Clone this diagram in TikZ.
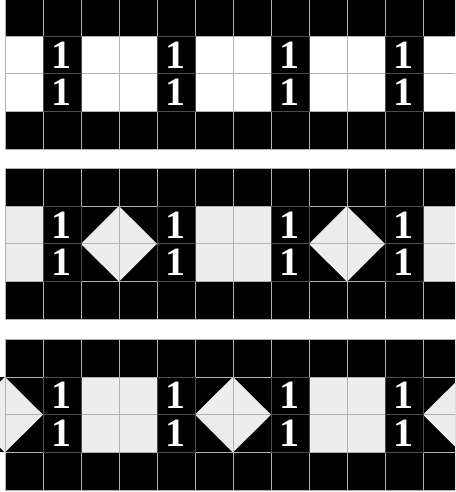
\documentclass[tikz,border=0pt]{standalone}
\usepackage{fontspec}
\setmainfont{Liberation Serif}
\usepackage{xcolor}
\usepackage{tikz}
\definecolor{paleg}{HTML}{EDEDED}

\begin{document}
\begin{tikzpicture}[x=1cm, y=-0.9947cm,
    cellgrid/.style={draw=gray!60, line width=0.5pt},
    onecell/.style={draw=black!70, line width=0.5pt},
    one/.style={text=white, inner sep=0pt, font=\fontsize{30}{30}\selectfont\bfseries}]
    \useasboundingbox (0,0) rectangle (11.974,13.016);
    \clip (0,0) rectangle (11.974,13.016);

    % first band: plain white gaps
    \begin{scope}[shift={(0.13,-0.05)}]
        \fill (0,0) rectangle (12,1);
        \fill (0,3) rectangle (12,4);
        \foreach \c in {1,4,7,10} \fill (\c,1) rectangle ++(1,2);
        \foreach \c in {0,...,12} \draw[cellgrid] (\c,0) -- (\c,4);
        \foreach \r in {0,...,4} \draw[cellgrid] (0,\r) -- (12,\r);
        \foreach \c in {1,4,7,10} {
            \draw[onecell] (\c,1) rectangle ++(1,1) (\c,2) rectangle ++(1,1);
            \node[one] (a\c up) at (\c+0.5,1.5) {1};
            \node[one] (a\c dn) at (\c+0.5,2.5) {1};
        }
    \end{scope}

    % second band: diamonds between the pairs
    \begin{scope}[shift={(0.13,4.45)}]
        \fill[paleg] (0,1) rectangle (12,3);
        \fill (0,0) rectangle (12,1);
        \fill (0,3) rectangle (12,4);
        \foreach \c in {1,4,7,10} \fill (\c,1) rectangle ++(1,2);
        \foreach \m in {3,9} {
            \fill (\m-1,1) rectangle (\m+1,3);
            \fill[paleg] (\m-1,2) -- (\m,1) -- (\m+1,2) -- (\m,3) -- cycle;
        }
        \foreach \c in {0,...,12} \draw[cellgrid] (\c,0) -- (\c,4);
        \foreach \r in {0,...,4} \draw[cellgrid] (0,\r) -- (12,\r);
        \foreach \c in {1,4,7,10} {
            \draw[onecell] (\c,1) rectangle ++(1,1) (\c,2) rectangle ++(1,1);
            \node[one] (b\c up) at (\c+0.5,1.5) {1};
            \node[one] (b\c dn) at (\c+0.5,2.5) {1};
        }
    \end{scope}

    % third band: diamonds shifted
    \begin{scope}[shift={(0.13,8.97)}]
        \fill[paleg] (0,1) rectangle (12,3);
        \fill (0,0) rectangle (12,1);
        \fill (0,3) rectangle (12,4);
        \foreach \c in {1,4,7,10} \fill (\c,1) rectangle ++(1,2);
        \foreach \m in {0,6,12} {
            \fill (\m-1,1) rectangle (\m+1,3);
            \fill[paleg] (\m-1,2) -- (\m,1) -- (\m+1,2) -- (\m,3) -- cycle;
        }
        \foreach \c in {0,...,12} \draw[cellgrid] (\c,0) -- (\c,4);
        \foreach \r in {0,...,4} \draw[cellgrid] (0,\r) -- (12,\r);
        \foreach \c in {1,4,7,10} {
            \draw[onecell] (\c,1) rectangle ++(1,1) (\c,2) rectangle ++(1,1);
            \node[one] (c\c up) at (\c+0.5,1.5) {1};
            \node[one] (c\c dn) at (\c+0.5,2.5) {1};
        }
    \end{scope}
\end{tikzpicture}
\end{document}
